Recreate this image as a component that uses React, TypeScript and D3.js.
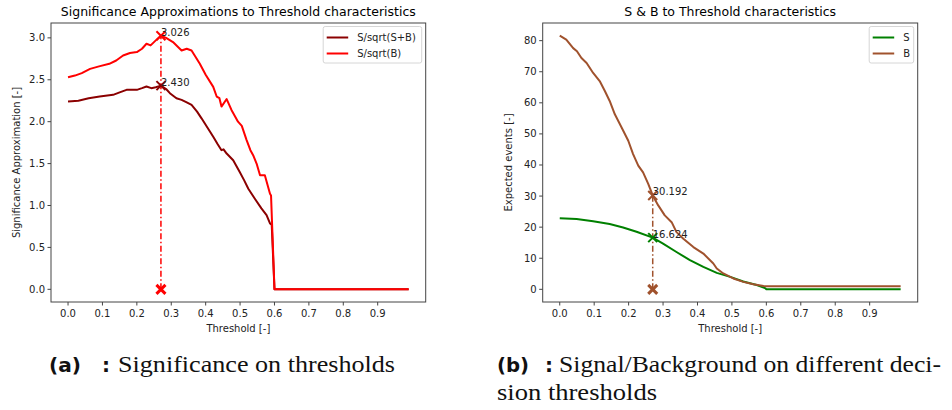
import React from "react";
import * as d3 from "d3";

// ---------- data ----------
const xTickValues = [0, 0.1, 0.2, 0.3, 0.4, 0.5, 0.6, 0.7, 0.8, 0.9];
const sigYTicks = [0, 0.5, 1.0, 1.5, 2.0, 2.5, 3.0];
const evtYTicks = [0, 10, 20, 30, 40, 50, 60, 70, 80];

const sbX = [0.0, 0.03, 0.06, 0.092, 0.131, 0.15, 0.17, 0.2, 0.215, 0.228, 0.242, 0.255, 0.27, 0.285, 0.296, 0.315, 0.33, 0.345, 0.359, 0.375, 0.388, 0.405, 0.422, 0.435, 0.446, 0.452, 0.461, 0.48, 0.499, 0.512, 0.524, 0.543, 0.562, 0.577, 0.587, 0.592, 0.6, 0.99];
const sOverSqrtSB = [2.24, 2.25, 2.28, 2.3, 2.32, 2.35, 2.38, 2.38, 2.4, 2.42, 2.4, 2.41, 2.43, 2.39, 2.34, 2.28, 2.26, 2.23, 2.2, 2.12, 2.04, 1.93, 1.82, 1.73, 1.66, 1.67, 1.62, 1.54, 1.4, 1.3, 1.2, 1.08, 0.965, 0.886, 0.786, 0.77, 0, 0];

const bX = [0.0, 0.02, 0.04, 0.064, 0.09, 0.12, 0.14, 0.16, 0.18, 0.2, 0.215, 0.228, 0.24, 0.255, 0.27, 0.285, 0.305, 0.33, 0.345, 0.359, 0.383, 0.4, 0.422, 0.432, 0.44, 0.446, 0.461, 0.475, 0.494, 0.505, 0.519, 0.53, 0.538, 0.548, 0.558, 0.572, 0.587, 0.59, 0.6, 0.99];
const sOverSqrtB = [2.53, 2.55, 2.58, 2.63, 2.66, 2.69, 2.73, 2.79, 2.82, 2.83, 2.87, 2.93, 2.91, 2.97, 3.026, 3.0, 2.95, 2.85, 2.87, 2.85, 2.69, 2.56, 2.415, 2.3, 2.28, 2.18, 2.27, 2.14, 2.0, 1.95, 1.78, 1.66, 1.6, 1.5, 1.36, 1.36, 1.14, 1.12, 0, 0];

const sigX = [0.0, 0.049, 0.097, 0.145, 0.184, 0.223, 0.27, 0.3, 0.339, 0.378, 0.417, 0.456, 0.495, 0.533, 0.572, 0.596, 0.6, 0.99];
const sigEvents = [22.9, 22.6, 21.9, 21.0, 19.9, 18.5, 16.624, 14.7, 12.0, 9.4, 7.2, 5.3, 4.0, 2.5, 1.4, 0.4, 0, 0];

const bkgX = [0.0, 0.019, 0.039, 0.05, 0.063, 0.078, 0.097, 0.116, 0.131, 0.145, 0.16, 0.18, 0.199, 0.213, 0.228, 0.242, 0.257, 0.27, 0.286, 0.305, 0.325, 0.339, 0.359, 0.388, 0.417, 0.446, 0.456, 0.475, 0.504, 0.533, 0.562, 0.592, 0.6, 0.99];
const bkgEvents = [81.6, 80.3, 77.6, 76.6, 74.4, 72.8, 69.6, 67.0, 63.8, 60.6, 56.3, 52.0, 47.8, 43.5, 39.8, 37.6, 33.9, 30.192, 27.0, 23.8, 21.6, 18.4, 16.3, 13.6, 11.5, 8.3, 6.7, 5.1, 3.5, 2.4, 1.6, 1.05, 1.0, 1.0];

const bestThreshold = 0.27;
const bestSigB = 3.026;
const bestSigSB = 2.43;
const bestS = 16.624;
const bestB = 30.192;

// ---------- rendering ----------
const FONT = "DejaVu Sans";

type Series = { x: number[]; y: number[]; color: string; label: string };
type Mark = { y: number; color: string; text: string };

function Cross({ cx, cy, size, color, width }: { cx: number; cy: number; size: number; color: string; width: number }) {
  return (
    <g stroke={color} strokeWidth={width} strokeLinecap="butt">
      <line x1={cx - size} y1={cy - size} x2={cx + size} y2={cy + size} />
      <line x1={cx - size} y1={cy + size} x2={cx + size} y2={cy - size} />
    </g>
  );
}

function Panel(props: {
  left: number; right: number; top: number; bottom: number;
  yDomain: [number, number]; yTicks: number[]; yFmt: (v: number) => string;
  title: string; yLabel: string; series: Series[]; marks: Mark[]; vColor: string; vTop: number; baseColor: string;
}) {
  const { left, right, top, bottom, yDomain, yTicks, yFmt, title, yLabel, series, marks, vColor, vTop, baseColor } = props;
  const x = d3.scaleLinear().domain([-0.0495, 1.0395]).range([left, right]);
  const y = d3.scaleLinear().domain(yDomain).range([bottom, top]);
  const line = d3.line<[number, number]>().x((d) => x(d[0])).y((d) => y(d[1]));
  const cx = (left + right) / 2;
  const bx = x(bestThreshold);
  return (
    <g fontFamily={FONT}>
      <text x={cx} y={16} textAnchor="middle" fontSize={12.5} fill="#000">{title}</text>
      {series.map((s, i) => (
        <path key={i} d={line(s.x.map((v, j) => [v, s.y[j]] as [number, number])) || ""} fill="none" stroke={s.color} strokeWidth={2} strokeLinejoin="round" />
      ))}
      <line x1={bx} x2={bx} y1={y(0)} y2={y(vTop)} stroke={vColor} strokeWidth={1.5} strokeDasharray="6,2.5,1.5,2.5" />
      {marks.map((m, i) => (
        <g key={i}>
          <Cross cx={bx} cy={y(m.y)} size={4.5} color={m.color} width={2} />
          <text x={bx} y={y(m.y)} fontSize={10} fill="#222">{m.text}</text>
        </g>
      ))}
      <Cross cx={bx} cy={y(0)} size={4.5} color={baseColor} width={3} />
      <rect x={left} y={top} width={right - left} height={bottom - top} fill="none" stroke="#444" strokeWidth={1} />
      {xTickValues.map((t) => (
        <g key={t}>
          <line x1={x(t)} x2={x(t)} y1={bottom} y2={bottom + 3.5} stroke="#444" />
          <text x={x(t)} y={bottom + 15} textAnchor="middle" fontSize={10} fill="#222">{t.toFixed(1)}</text>
        </g>
      ))}
      {yTicks.map((t) => (
        <g key={t}>
          <line x1={left - 3.5} x2={left} y1={y(t)} y2={y(t)} stroke="#444" />
          <text x={left - 6} y={y(t) + 3.5} textAnchor="end" fontSize={10} fill="#222">{yFmt(t)}</text>
        </g>
      ))}
      <text x={cx} y={bottom + 30} textAnchor="middle" fontSize={10} fill="#222">Threshold [-]</text>
      <text transform={`translate(${left - 31},${(top + bottom) / 2}) rotate(-90)`} textAnchor="middle" fontSize={10} fill="#222">{yLabel}</text>
      <Legend right={right} top={top} series={series} />
    </g>
  );
}

function Legend({ right, top, series }: { right: number; top: number; series: Series[] }) {
  const width = series[0].label.length > 3 ? 98.5 : 44.5;
  const x0 = right - 4 - width;
  return (
    <g>
      <rect x={x0} y={top + 3.5} width={width} height={36.5} rx={2} fill="#fff" fillOpacity={0.8} stroke="#d6d6d6" />
      {series.map((s, i) => (
        <g key={i}>
          <line x1={x0 + 3.5} x2={x0 + 25} y1={top + 14.5 + i * 16} y2={top + 14.5 + i * 16} stroke={s.color} strokeWidth={2} />
          <text x={x0 + 34} y={top + 18 + i * 16} fontSize={10} fill="#222">{s.label}</text>
        </g>
      ))}
    </g>
  );
}

const SERIF = "Liberation Serif";

export default function App() {
  return (
    <svg width={952} height={410} style={{ position: "absolute", left: 0, top: 0, background: "#fff" }}>
      <rect width={952} height={410} fill="#fff" />
      <Panel
        left={51} right={425.7} top={23} bottom={302}
        yDomain={[-0.1513, 3.1773]} yTicks={sigYTicks} yFmt={(v) => v.toFixed(1)}
        title="Significance Approximations to Threshold characteristics"
        yLabel="Significance Approximation [-]"
        series={[
          { x: sbX, y: sOverSqrtSB, color: "#8b0000", label: "S/sqrt(S+B)" },
          { x: bX, y: sOverSqrtB, color: "#ff0000", label: "S/sqrt(B)" },
        ]}
        marks={[
          { y: bestSigB, color: "#ff0000", text: bestSigB.toFixed(3) },
          { y: bestSigSB, color: "#8b0000", text: bestSigSB.toFixed(3) },
        ]}
        vColor="#ff0000" vTop={bestSigB} baseColor="#ff0000"
      />
      <Panel
        left={542.7} right={917.7} top={23} bottom={302}
        yDomain={[-4.08, 85.68]} yTicks={evtYTicks} yFmt={(v) => String(v)}
        title="S & B to Threshold characteristics"
        yLabel="Expected events [-]"
        series={[
          { x: sigX, y: sigEvents, color: "#008000", label: "S" },
          { x: bkgX, y: bkgEvents, color: "#a0522d", label: "B" },
        ]}
        marks={[
          { y: bestB, color: "#a0522d", text: bestB.toFixed(3) },
          { y: bestS, color: "#008000", text: bestS.toFixed(3) },
        ]}
        vColor="#a0522d" vTop={bestB} baseColor="#a0522d"
      />
      <g fill="#111">
        <text x={49} y={372} fontFamily="DejaVu Sans" fontWeight="bold" fontSize={20} textLength={32} lengthAdjust="spacingAndGlyphs">(a)</text>
        <text x={102} y={372} fontFamily="DejaVu Sans" fontWeight="bold" fontSize={20}>:</text>
        <text x={118} y={372} fontFamily={SERIF} fontSize={23} textLength={277} lengthAdjust="spacingAndGlyphs">Significance on thresholds</text>
        <text x={497} y={372} fontFamily="DejaVu Sans" fontWeight="bold" fontSize={20} textLength={32} lengthAdjust="spacingAndGlyphs">(b)</text>
        <text x={545} y={372} fontFamily="DejaVu Sans" fontWeight="bold" fontSize={20}>:</text>
        <text x={559} y={372} fontFamily={SERIF} fontSize={23} textLength={382} lengthAdjust="spacingAndGlyphs">Signal/Background on different deci-</text>
        <text x={497} y={400} fontFamily={SERIF} fontSize={23} textLength={160} lengthAdjust="spacingAndGlyphs">sion thresholds</text>
      </g>
    </svg>
  );
}
